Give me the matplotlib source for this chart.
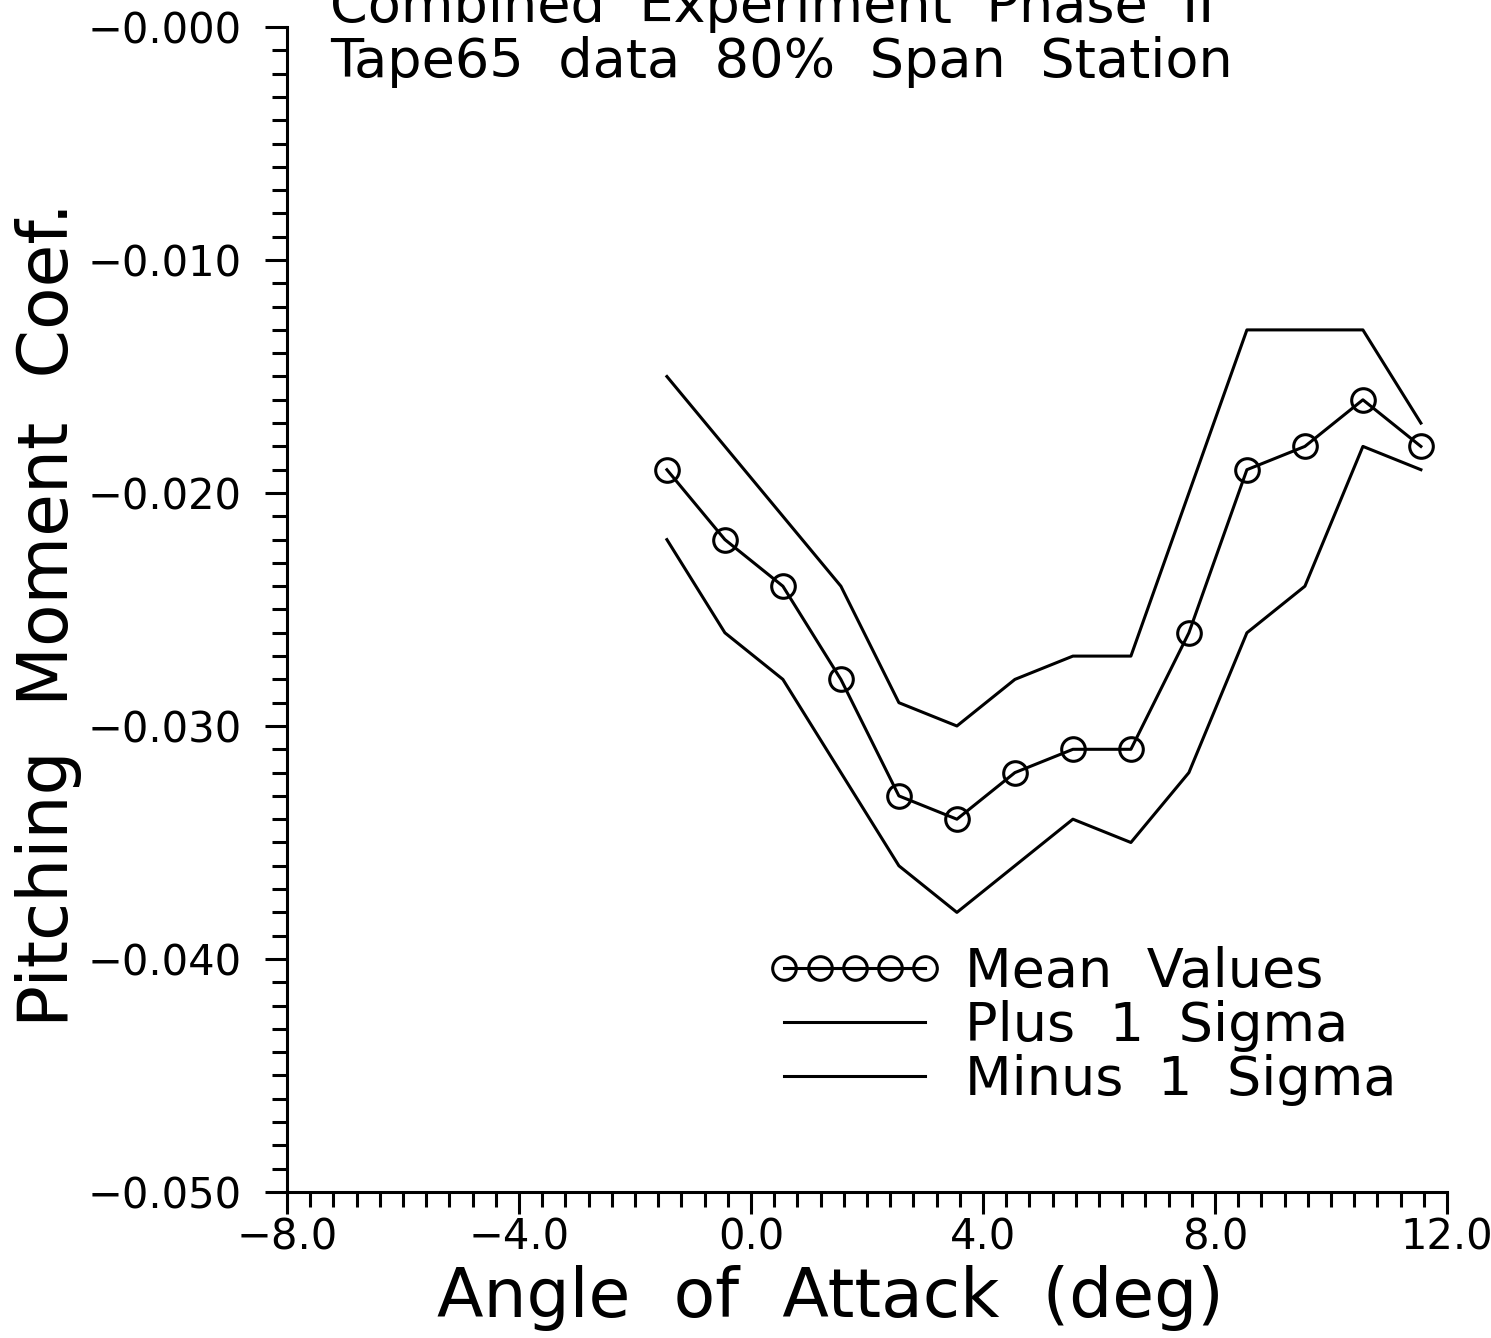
import matplotlib
matplotlib.use("Agg")
import matplotlib.pyplot as plt
from matplotlib.ticker import FixedLocator, FixedFormatter, MultipleLocator

plt.rcParams['font.family'] = ['DejaVu Sans']

# angle of attack (deg) and pitching moment coefficient
aoa = [-1.45, -0.45, 0.55, 1.55, 2.55, 3.55, 4.55, 5.55, 6.55, 7.55, 8.55, 9.55, 10.55, 11.55]
mean_vals = [-0.019, -0.022, -0.024, -0.028, -0.033, -0.034, -0.032, -0.031, -0.031,
             -0.026, -0.019, -0.018, -0.016, -0.018]
plus_sigma = [-0.015, -0.018, -0.021, -0.024, -0.029, -0.030, -0.028, -0.027, -0.027,
              -0.020, -0.013, -0.013, -0.013, -0.017]
minus_sigma = [-0.022, -0.026, -0.028, -0.032, -0.036, -0.038, -0.036, -0.034, -0.035,
               -0.032, -0.026, -0.024, -0.018, -0.019]

x_ticks = [-8, -4, 0, 4, 8, 12]
x_labels = ["\u22128.0", "\u22124.0", "0.0", "4.0", "8.0", "12.0"]
y_ticks = [-0.05, -0.04, -0.03, -0.02, -0.01, 0.0]
y_labels = ["\u22120.050", "\u22120.040", "\u22120.030", "\u22120.020", "\u22120.010", "\u22120.000"]

fig = plt.figure(figsize=(14.91, 13.38), dpi=100)
ax = fig.add_axes([0.19249, 0.10912, 0.77800, 0.87070])

lw = 2.2
ax.plot(aoa, mean_vals, color='black', lw=lw, marker='o', ms=17, mfc='none',
        mew=lw, label='Mean  Values')
ax.plot(aoa, plus_sigma, color='black', lw=lw, label='Plus  1  Sigma')
ax.plot(aoa, minus_sigma, color='black', lw=lw, label='Minus  1  Sigma')

ax.set_xlim(-8, 12)
ax.set_ylim(-0.05, 0.0)

ax.spines['top'].set_visible(False)
ax.spines['right'].set_visible(False)
for s in ['left', 'bottom']:
    ax.spines[s].set_linewidth(lw)

ax.xaxis.set_major_locator(FixedLocator(x_ticks))
ax.xaxis.set_major_formatter(FixedFormatter(x_labels))
ax.xaxis.set_minor_locator(MultipleLocator(0.4))
ax.yaxis.set_major_locator(FixedLocator(y_ticks))
ax.yaxis.set_major_formatter(FixedFormatter(y_labels))
ax.yaxis.set_minor_locator(MultipleLocator(0.001))

ax.tick_params(which='both', direction='out', width=lw, labelsize=30)
ax.tick_params(which='major', length=15.5)
ax.tick_params(which='minor', length=11)
ax.tick_params(axis='y', which='major', pad=17)
ax.tick_params(axis='x', which='major', pad=2)

fig.text(830 / 1491, 1 - 1317 / 1338, 'Angle  of  Attack  (deg)', fontsize=49,
         ha='center', va='baseline')
fig.text(68 / 1491, 1 - 615 / 1338, 'Pitching  Moment  Coef.', fontsize=50,
         rotation=90, rotation_mode='anchor', ha='center', va='baseline')

fig.text(330 / 1491, 1 - 22 / 1338, 'Combined  Experiment  Phase  II', fontsize=39,
         ha='left', va='baseline')
fig.text(330 / 1491, 1 - 77 / 1338, 'Tape65  data  80%  Span  Station', fontsize=39,
         ha='left', va='baseline')

ax.legend(loc='center left', bbox_to_anchor=(0.4147, 0.1425), frameon=False,
          numpoints=5, fontsize=39, handlelength=3.2, handletextpad=0.43,
          labelspacing=0.04, borderpad=0, borderaxespad=0, markerscale=1.0)

fig.savefig('out.png', dpi=100)
